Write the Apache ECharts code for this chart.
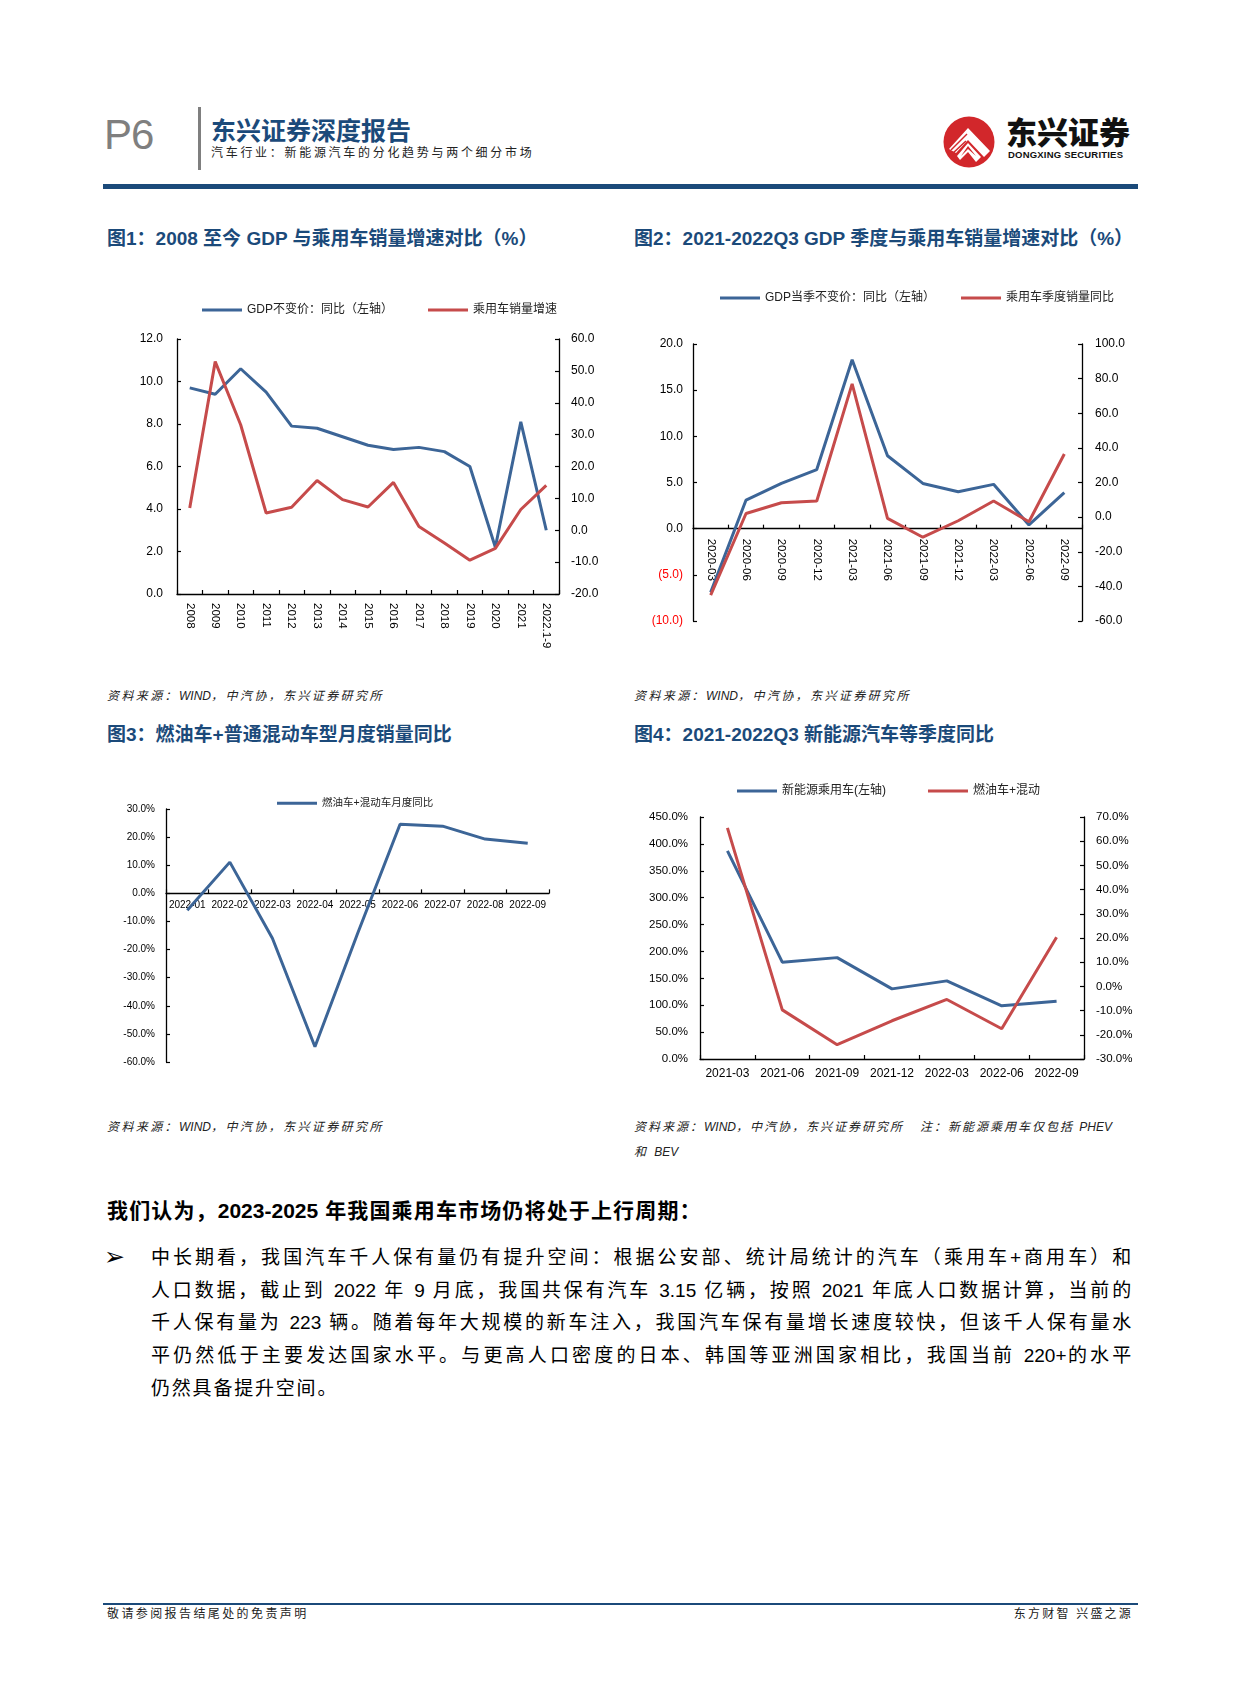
<!DOCTYPE html>
<html><head><meta charset="utf-8">
<script src="https://cdn.jsdelivr.net/npm/echarts@6/dist/echarts.min.js"></script>
<style>
body{margin:0;background:#fff;width:1240px;height:1683px;position:relative;overflow:hidden;font-family:'Liberation Sans','Noto Sans CJK SC',sans-serif;color:#000;}
.a{position:absolute;white-space:nowrap;line-height:1.2;}
.ttl{font-size:19px;font-weight:bold;color:#1B4A7A;}
.src{font-size:12px;font-style:italic;letter-spacing:2.4px;color:#222;}
.body{font-size:19px;letter-spacing:1.8px;width:982px;left:151px;text-align:justify;text-align-last:justify;}
.n{letter-spacing:0;}
.chart{position:absolute;}
</style></head>
<body>
<!-- header -->
<div class="a" style="left:104px;top:110px;font-size:42px;color:#7f7f7f;letter-spacing:-1px;">P6</div>
<div style="position:absolute;left:198px;top:107px;width:3px;height:63px;background:#7f7f7f;"></div>
<div class="a" style="left:211px;top:114px;font-size:25px;font-weight:bold;color:#1B4A7A;font-family:'Noto Sans CJK SC';">东兴证券深度报告</div>
<div class="a" style="left:211px;top:145px;font-size:12px;letter-spacing:2.7px;color:#222;font-family:'Noto Sans CJK SC';">汽车行业：新能源汽车的分化趋势与两个细分市场</div>
<svg style="position:absolute;left:943px;top:116px;" width="52" height="52" viewBox="0 0 52 52">
  <circle cx="26" cy="26" r="25.5" fill="#D2272B"/>
  <polygon points="6,33 25,12 47,35 41,41 25,24 13,37" fill="#fff"/>
  <polygon points="25,27 38,41 33,46 25,36 17,44 14,40" fill="#fff"/>
  <polygon points="25,30 33,40 25,33 18,40" fill="#D2272B"/>
  <line x1="9" y1="38" x2="23" y2="25" stroke="#D2272B" stroke-width="1.6"/>
  <line x1="8" y1="34" x2="24" y2="18" stroke="#D2272B" stroke-width="1.4"/>
</svg>
<div class="a" style="left:1006px;top:112px;font-size:31px;font-weight:900;color:#111;font-family:'Noto Sans CJK SC';">东兴证券</div>
<div class="a" style="left:1008px;top:149px;font-size:9.5px;font-weight:bold;color:#111;letter-spacing:0.2px;">DONGXING SECURITIES</div>
<div style="position:absolute;left:103px;top:184px;width:1035px;height:5px;background:#1B4A7A;"></div>

<!-- chart titles -->
<div class="a ttl" style="left:107px;top:228px;">图1：2008 至今 GDP 与乘用车销量增速对比（%）</div>
<div class="a ttl" style="left:634px;top:228px;">图2：2021-2022Q3 GDP 季度与乘用车销量增速对比（%）</div>
<div class="a ttl" style="left:107px;top:724px;">图3：燃油车+普通混动车型月度销量同比</div>
<div class="a ttl" style="left:634px;top:724px;">图4：2021-2022Q3 新能源汽车等季度同比</div>

<div class="chart" id="c1" style="left:102px;top:290px;width:500px;height:380px;"></div>
<div class="chart" id="c2" style="left:630px;top:280px;width:510px;height:380px;"></div>
<div class="chart" id="c3" style="left:100px;top:780px;width:500px;height:300px;"></div>
<div class="chart" id="c4" style="left:630px;top:770px;width:510px;height:320px;"></div>

<div class="a src" style="left:107px;top:689px;">资料来源：<span class="n">WIND</span>，中汽协，东兴证券研究所</div>
<div class="a src" style="left:634px;top:689px;">资料来源：<span class="n">WIND</span>，中汽协，东兴证券研究所</div>
<div class="a src" style="left:107px;top:1120px;">资料来源：<span class="n">WIND</span>，中汽协，东兴证券研究所</div>
<div class="a src" style="left:634px;top:1120px;letter-spacing:2px;">资料来源：<span class="n">WIND</span>，中汽协，东兴证券研究所&nbsp;&nbsp;&nbsp;注：新能源乘用车仅包括 <span class="n">PHEV</span></div>
<div class="a src" style="left:634px;top:1145px;">和 <span class="n">BEV</span></div>

<!-- text -->
<div class="a" style="left:107px;top:1198px;font-size:21px;font-weight:bold;letter-spacing:1.15px;">我们认为，<span class="n">2023-2025</span> 年我国乘用车市场仍将处于上行周期：</div>
<div class="a" style="left:104px;top:1242px;font-size:25px;font-family:'DejaVu Sans';">➢</div>
<div class="a body" style="top:1247px;">中长期看，我国汽车千人保有量仍有提升空间：根据公安部、统计局统计的汽车（乘用车+商用车）和</div>
<div class="a body" style="top:1280px;">人口数据，截止到 <span class="n">2022</span> 年 <span class="n">9</span> 月底，我国共保有汽车 <span class="n">3.15</span> 亿辆，按照 <span class="n">2021</span> 年底人口数据计算，当前的</div>
<div class="a body" style="top:1312px;">千人保有量为 <span class="n">223</span> 辆。随着每年大规模的新车注入，我国汽车保有量增长速度较快，但该千人保有量水</div>
<div class="a body" style="top:1345px;">平仍然低于主要发达国家水平。与更高人口密度的日本、韩国等亚洲国家相比，我国当前 <span class="n">220+</span>的水平</div>
<div class="a body" style="top:1378px;text-align:left;text-align-last:left;">仍然具备提升空间。</div>

<!-- footer -->
<div style="position:absolute;left:103px;top:1603px;width:1035px;height:2px;background:#1B4A7A;"></div>
<div class="a" style="left:107px;top:1607px;font-size:12px;letter-spacing:2.4px;color:#222;">敬请参阅报告结尾处的免责声明</div>
<div class="a" style="right:107px;top:1607px;font-size:12px;letter-spacing:2.2px;color:#222;">东方财智 兴盛之源</div>

<script>
// ---------- data ----------
const c1Years = ['2008','2009','2010','2011','2012','2013','2014','2015','2016','2017','2018','2019','2020','2021','2022.1-9'];
const c1Gdp = [9.7,9.4,10.6,9.5,7.9,7.8,7.4,7.0,6.8,6.9,6.7,6.0,2.2,8.1,3.0];
const c1Car = [7.0,52.9,33.1,5.4,7.2,15.6,9.6,7.3,15.0,1.2,-4.0,-9.4,-5.7,6.5,14.1];

const c2Quarters = ['2020-03','2020-06','2020-09','2020-12','2021-03','2021-06','2021-09','2021-12','2022-03','2022-06','2022-09'];
const c2Gdp = [-6.9,3.1,4.9,6.4,18.3,7.9,4.9,4.0,4.8,0.4,3.9];
const c2Car = [-45.1,2.1,8.3,9.3,77.0,-0.7,-11.6,-2.1,9.3,-2.7,36.5];

const c3Months = ['2022-01','2022-02','2022-03','2022-04','2022-05','2022-06','2022-07','2022-08','2022-09'];
const c3Ice = [-6.0,11.1,-16.0,-54.6,-14.4,24.6,23.9,19.3,17.8];

const c4Quarters = ['2021-03','2021-06','2021-09','2021-12','2022-03','2022-06','2022-09'];
const c4Nev = [387,180,188.5,130.4,145.3,99,107.6];
const c4Ice = [65.5,-9.7,-24.1,-14.2,-5.4,-17.5,20.3];

// ---------- helpers ----------
const FONT = "'Liberation Sans','Noto Sans CJK SC',sans-serif";
const BLUE = '#3C6597', RED = '#C64B4B';
const axLine = {show:true, lineStyle:{color:'#000', width:1.3}};
const axTick = {show:true, inside:true, length:4, lineStyle:{color:'#000', width:1.2}};
function legend(left, top, gap, size){
  return {left:left, top:top, padding:0, itemGap:gap, itemWidth:40, itemHeight:3, icon:'rect',
    textStyle:{fontSize:size, color:'#222', fontFamily:FONT}};
}
function line(name, data, color, yi){
  return {type:'line', name:name, data:data, yAxisIndex:yi||0, symbol:'none', lineStyle:{color:color, width:3}, itemStyle:{color:color}};
}
function valAxis(min, max, interval, pos, margin, size, fmt, extra){
  return Object.assign({type:'value', min:min, max:max, interval:interval, position:pos,
    axisLine:axLine, axisTick:axTick, splitLine:{show:false},
    axisLabel:{color:'#000', fontSize:size, fontFamily:FONT, margin:margin, formatter:fmt}}, extra||{});
}
// distance from the grid bottom to the zero line of a value axis (labels are drawn at the zero line)
function zeroOffset(gridH, min, max){ return gridH * (0 - min) / (max - min); }

// ---------- chart 1 ----------
echarts.init(document.getElementById('c1')).setOption({
  animation:false,
  legend: legend(100, 14, 35, 12),
  grid:{left:75, top:49, width:382, height:255, outerBoundsMode:'none'},
  xAxis:{type:'category', data:c1Years, boundaryGap:true, axisLine:axLine, axisTick:axTick,
    axisLabel:{rotate:-90, interval:0, color:'#000', fontSize:11.5, fontFamily:FONT, margin:9}},
  yAxis:[
    valAxis(0, 12, 2, 'left', 14, 12, v=>v.toFixed(1)),
    valAxis(-20, 60, 10, 'right', 12, 12, v=>v.toFixed(1))
  ],
  series:[line('GDP不变价：同比（左轴）', c1Gdp, BLUE, 0), line('乘用车销量增速', c1Car, RED, 1)]
});

// ---------- chart 2 ----------
const g2H = 277;
echarts.init(document.getElementById('c2')).setOption({
  animation:false,
  legend: legend(90, 12, 26, 12),
  grid:{left:63, top:64, width:389, height:g2H, outerBoundsMode:'none'},
  xAxis:{type:'category', data:c2Quarters, boundaryGap:true,
    axisLine:{show:true, onZero:true, onZeroAxisIndex:0, lineStyle:{color:'#000', width:1.3}}, axisTick:axTick,
    axisLabel:{rotate:-90, interval:0, color:'#000', fontSize:11.5, fontFamily:FONT, margin:10 - zeroOffset(g2H,-10,20)}},
  yAxis:[
    valAxis(-10, 20, 5, 'left', 10, 12, v=> v<0 ? '{r|('+Math.abs(v).toFixed(1)+')}' : v.toFixed(1)),
    valAxis(-60, 100, 20, 'right', 13, 12, v=>v.toFixed(1))
  ],
  series:[line('GDP当季不变价：同比（左轴）', c2Gdp, BLUE, 0), line('乘用车季度销量同比', c2Car, RED, 1)]
});
echarts.getInstanceByDom(document.getElementById('c2')).setOption({
  yAxis:[{axisLabel:{rich:{r:{color:'#FF0000', fontSize:12, fontFamily:FONT}}}},{}]
});

// ---------- chart 3 ----------
const g3H = 253;
echarts.init(document.getElementById('c3')).setOption({
  animation:false,
  legend: legend(177, 18, 20, 10.5),
  grid:{left:66, top:29, width:383, height:g3H, outerBoundsMode:'none'},
  xAxis:{type:'category', data:c3Months, boundaryGap:true,
    axisLine:{show:true, onZero:true, lineStyle:{color:'#000', width:1.3}}, axisTick:axTick,
    axisLabel:{interval:0, color:'#000', fontSize:10, fontFamily:FONT, margin:7 - zeroOffset(g3H,-60,30)}},
  yAxis:[valAxis(-60, 30, 10, 'left', 11, 10, v=>v.toFixed(1)+'%')],
  series:[line('燃油车+混动车月度同比', c3Ice, BLUE, 0)]
});

// ---------- chart 4 ----------
echarts.init(document.getElementById('c4')).setOption({
  animation:false,
  legend: legend(107, 15, 42, 12),
  grid:{left:70, top:47, width:384, height:242, outerBoundsMode:'none'},
  xAxis:{type:'category', data:c4Quarters, boundaryGap:true, axisLine:axLine, axisTick:axTick,
    axisLabel:{interval:0, color:'#000', fontSize:12, fontFamily:FONT, margin:9}},
  yAxis:[
    valAxis(0, 450, 50, 'left', 12, 11.5, v=>v.toFixed(1)+'%'),
    valAxis(-30, 70, 10, 'right', 12, 11.5, v=>v.toFixed(1)+'%')
  ],
  series:[line('新能源乘用车(左轴)', c4Nev, BLUE, 0), line('燃油车+混动', c4Ice, RED, 1)]
});
</script>
</body></html>
